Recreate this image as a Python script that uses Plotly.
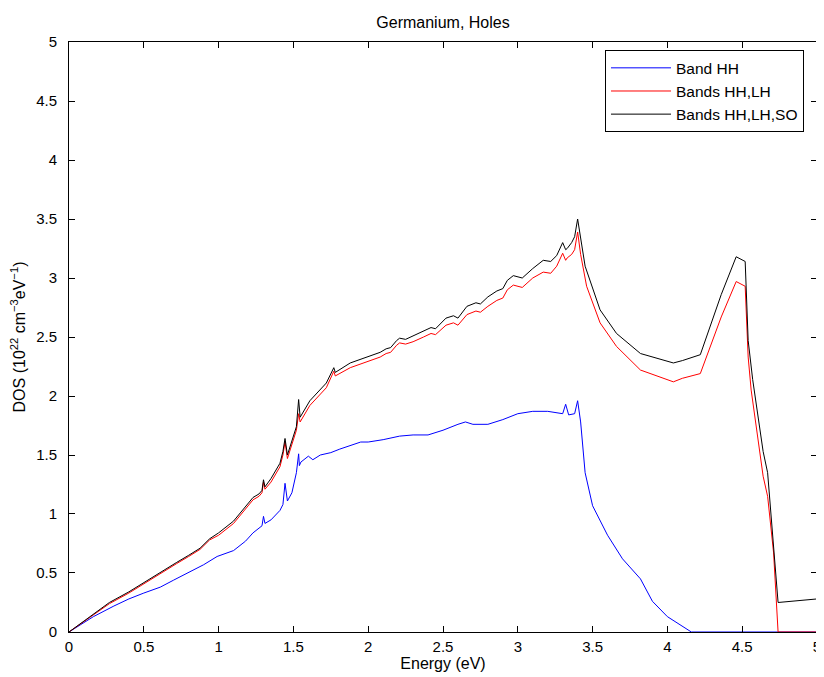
import plotly.graph_objects as go

# Band HH (blue)
e_hh = [0, 0.1, 0.163, 0.3, 0.4, 0.5, 0.61, 0.7, 0.83, 0.9, 0.99, 1.1, 1.18, 1.23, 1.27, 1.29, 1.30, 1.31, 1.35, 1.41, 1.43, 1.444, 1.46, 1.49, 1.52, 1.535, 1.54, 1.55, 1.60, 1.63, 1.68, 1.75, 1.81, 1.95, 2.0, 2.1, 2.21, 2.3, 2.4, 2.5, 2.6, 2.65, 2.7, 2.8, 2.9, 3.0, 3.1, 3.2, 3.3, 3.32, 3.34, 3.38, 3.40, 3.42, 3.45, 3.5, 3.6, 3.7, 3.82, 3.9, 4.0, 4.1, 4.16, 5.0]
dos_hh = [0, 0.08, 0.13, 0.22, 0.28, 0.33, 0.38, 0.44, 0.525, 0.57, 0.64, 0.69, 0.77, 0.84, 0.88, 0.90, 0.98, 0.92, 0.95, 1.03, 1.08, 1.26, 1.11, 1.18, 1.35, 1.51, 1.41, 1.44, 1.49, 1.46, 1.50, 1.52, 1.55, 1.61, 1.61, 1.63, 1.66, 1.67, 1.67, 1.71, 1.76, 1.78, 1.76, 1.76, 1.80, 1.85, 1.87, 1.87, 1.85, 1.93, 1.84, 1.85, 1.96, 1.78, 1.35, 1.07, 0.82, 0.62, 0.45, 0.26, 0.13, 0.05, 0.0, 0.0]

# Bands HH,LH (red)
e_lh = [0, 0.1, 0.27, 0.4, 0.5, 0.6, 0.72, 0.8, 0.876, 0.94, 1.0, 1.1, 1.23, 1.27, 1.29, 1.30, 1.31, 1.35, 1.41, 1.43, 1.444, 1.46, 1.52, 1.535, 1.545, 1.61, 1.72, 1.77, 1.78, 1.88, 2.01, 2.08, 2.12, 2.15, 2.19, 2.21, 2.25, 2.30, 2.37, 2.42, 2.45, 2.52, 2.57, 2.60, 2.66, 2.72, 2.75, 2.80, 2.86, 2.90, 2.93, 2.97, 3.03, 3.10, 3.17, 3.22, 3.26, 3.30, 3.32, 3.33, 3.36, 3.38, 3.40, 3.42, 3.46, 3.55, 3.66, 3.82, 4.04, 4.1, 4.22, 4.36, 4.46, 4.52, 4.54, 4.56, 4.64, 4.67, 4.71, 4.735, 4.74, 5.0]
dos_lh = [0, 0.09, 0.24, 0.33, 0.41, 0.49, 0.58, 0.64, 0.70, 0.78, 0.82, 0.92, 1.12, 1.15, 1.18, 1.27, 1.21, 1.27, 1.40, 1.50, 1.61, 1.47, 1.71, 1.85, 1.78, 1.92, 2.07, 2.21, 2.17, 2.24, 2.30, 2.33, 2.36, 2.37, 2.43, 2.45, 2.44, 2.46, 2.50, 2.53, 2.52, 2.60, 2.62, 2.60, 2.69, 2.72, 2.71, 2.76, 2.81, 2.83, 2.90, 2.94, 2.92, 3.00, 3.05, 3.04, 3.10, 3.21, 3.15, 3.17, 3.20, 3.24, 3.39, 3.20, 2.93, 2.62, 2.42, 2.22, 2.12, 2.15, 2.19, 2.67, 2.97, 2.93, 2.33, 2.05, 1.32, 1.15, 0.67, 0.1, 0.0, 0.0]

# Bands HH,LH,SO (black)
e_so = [0, 0.1, 0.27, 0.4, 0.5, 0.6, 0.72, 0.8, 0.876, 0.94, 1.0, 1.1, 1.23, 1.27, 1.29, 1.30, 1.31, 1.35, 1.41, 1.43, 1.444, 1.46, 1.52, 1.535, 1.545, 1.61, 1.72, 1.77, 1.78, 1.88, 2.01, 2.08, 2.12, 2.15, 2.19, 2.21, 2.25, 2.30, 2.37, 2.42, 2.45, 2.52, 2.57, 2.60, 2.66, 2.72, 2.75, 2.80, 2.86, 2.90, 2.93, 2.97, 3.03, 3.10, 3.17, 3.22, 3.26, 3.30, 3.32, 3.33, 3.36, 3.38, 3.40, 3.42, 3.45, 3.55, 3.66, 3.82, 4.04, 4.1, 4.22, 4.36, 4.46, 4.52, 4.54, 4.57, 4.64, 4.67, 4.71, 4.74, 5.0]
dos_so = [0, 0.09, 0.25, 0.34, 0.42, 0.50, 0.59, 0.65, 0.71, 0.79, 0.84, 0.94, 1.14, 1.17, 1.20, 1.29, 1.23, 1.30, 1.43, 1.53, 1.64, 1.50, 1.74, 1.97, 1.82, 1.96, 2.11, 2.24, 2.20, 2.28, 2.34, 2.37, 2.40, 2.41, 2.47, 2.49, 2.48, 2.51, 2.55, 2.58, 2.57, 2.66, 2.68, 2.66, 2.76, 2.79, 2.78, 2.84, 2.89, 2.91, 2.98, 3.02, 3.00, 3.08, 3.15, 3.14, 3.19, 3.30, 3.24, 3.25, 3.30, 3.35, 3.50, 3.35, 3.10, 2.73, 2.53, 2.36, 2.28, 2.30, 2.35, 2.86, 3.18, 3.14, 2.47, 2.14, 1.53, 1.35, 0.70, 0.25, 0.28]

x_ticks = [0, 0.5, 1, 1.5, 2, 2.5, 3, 3.5, 4, 4.5, 5]
y_ticks = [0, 0.5, 1, 1.5, 2, 2.5, 3, 3.5, 4, 4.5, 5]

fig = go.Figure()
fig.add_trace(go.Scatter(x=e_hh, y=dos_hh, mode="lines", name="Band HH",
                         line=dict(color="#0000ff", width=1)))
fig.add_trace(go.Scatter(x=e_lh, y=dos_lh, mode="lines", name="Bands HH,LH",
                         line=dict(color="#ff0000", width=1)))
fig.add_trace(go.Scatter(x=e_so, y=dos_so, mode="lines", name="Bands HH,LH,SO",
                         line=dict(color="#000000", width=1)))

axis_common = dict(showline=True, linecolor="black", linewidth=1, mirror="ticks",
                   ticks="inside", ticklen=6, tickcolor="black", showgrid=False,
                   zeroline=False, automargin=False, tickfont=dict(size=15, color="black"))

# page body has an 8px margin, so the figure is sized to fit the window
fig.update_layout(
    width=816, height=669,
    paper_bgcolor="white", plot_bgcolor="white",
    font=dict(family="Liberation Sans, Arial, sans-serif", color="black"),
    margin=dict(l=61, r=7, t=34, b=45),
    title=dict(text="Germanium, Holes", x=(443 - 8) / 816, xanchor="center", y=0.979, yanchor="middle",
               font=dict(size=16)),
    xaxis=dict(range=[-0.0001, 5.0001], tickvals=x_ticks, ticktext=[f"{v:g}" for v in x_ticks],
               ticklabelstandoff=1,
               title=dict(text="Energy (eV)", font=dict(size=16), standoff=2), **axis_common),
    yaxis=dict(range=[-0.0001, 5.0001], tickvals=y_ticks, ticktext=[f"{v:g}" for v in y_ticks],
               ticklabelstandoff=8,
               title=dict(text="DOS (10<sup>22</sup> cm<sup>−3</sup>eV<sup>−1</sup>)",
                          font=dict(size=16), standoff=8), **axis_common),
    legend=dict(x=0.9826, xanchor="right", y=0.986, yanchor="top",
                bgcolor="white", bordercolor="black", borderwidth=1,
                font=dict(size=15.5), tracegroupgap=0, itemwidth=60),
    showlegend=True,
)

fig.write_html("out.html")
